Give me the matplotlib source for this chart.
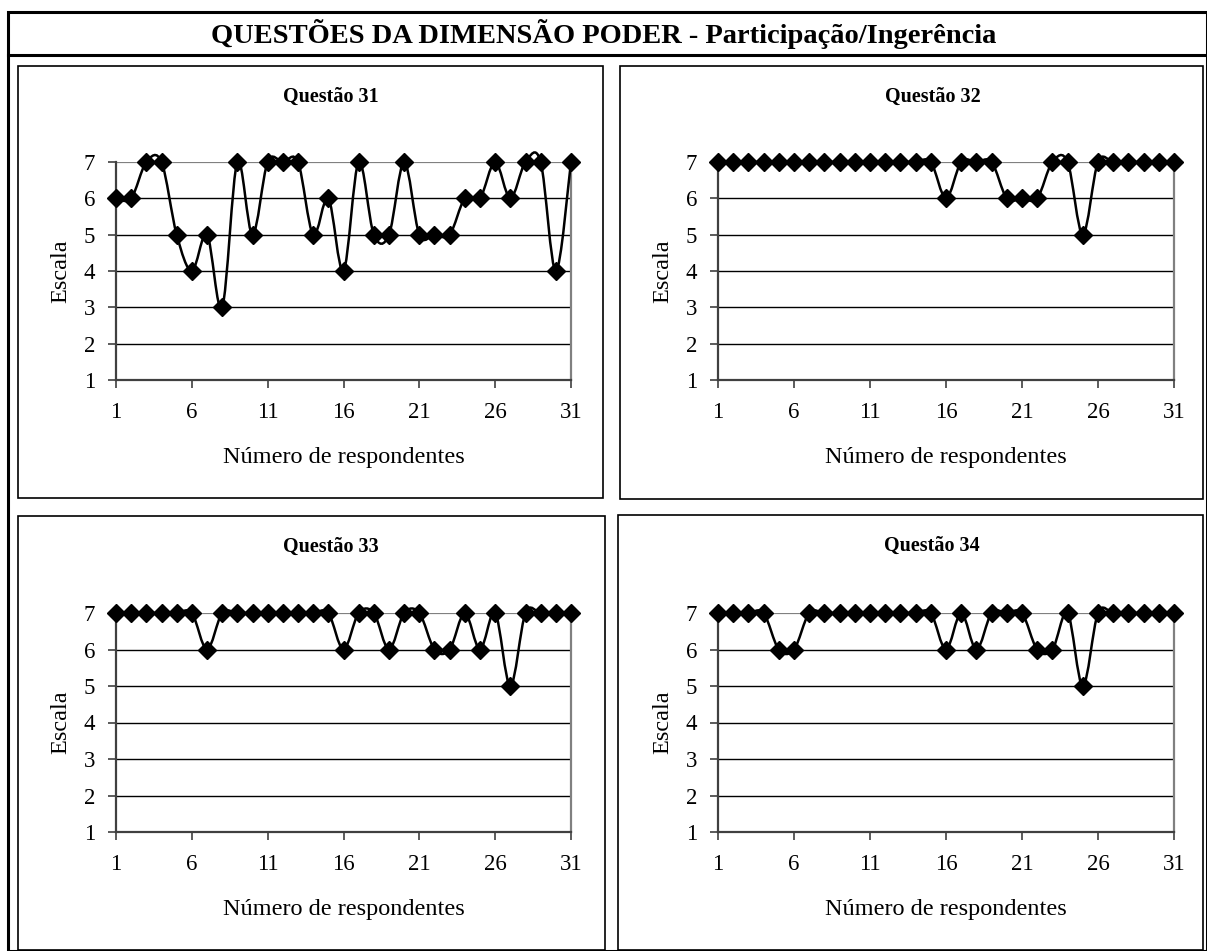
import matplotlib
matplotlib.use("Agg")
import matplotlib.pyplot as plt
import numpy as np
from matplotlib.path import Path
from matplotlib.patches import PathPatch, Rectangle

plt.rcParams['font.family'] = ['Liberation Serif', 'DejaVu Serif']

W, H = 1207, 951

titulo = "QUESTÕES DA DIMENSÃO PODER - Participação/Ingerência"
respondentes = list(range(1, 32))
q31 = [6, 6, 7, 7, 5, 4, 5, 3, 7, 5, 7, 7, 7, 5, 6, 4, 7, 5, 5, 7, 5, 5, 5, 6, 6, 7, 6, 7, 7, 4, 7]
q32 = [7, 7, 7, 7, 7, 7, 7, 7, 7, 7, 7, 7, 7, 7, 7, 6, 7, 7, 7, 6, 6, 6, 7, 7, 5, 7, 7, 7, 7, 7, 7]
q33 = [7, 7, 7, 7, 7, 7, 6, 7, 7, 7, 7, 7, 7, 7, 7, 6, 7, 7, 6, 7, 7, 6, 6, 7, 6, 7, 5, 7, 7, 7, 7]
q34 = [7, 7, 7, 7, 6, 6, 7, 7, 7, 7, 7, 7, 7, 7, 7, 6, 7, 6, 7, 7, 7, 6, 6, 7, 5, 7, 7, 7, 7, 7, 7]
paineis = ["Questão 31", "Questão 32", "Questão 33", "Questão 34"]
series = [q31, q32, q33, q34]
xticks = [1, 6, 11, 16, 21, 26, 31]
yticks = [1, 2, 3, 4, 5, 6, 7]


def px(x0, y0, x1, y1):
    # pixel box (top-left origin) -> figure fraction rect
    return [x0 / W, 1 - y1 / H, (x1 - x0) / W, (y1 - y0) / H]


def smooth_path(x, y):
    # excel-like smoothed line, bezier through the points
    x = np.asarray(x, float)
    y = np.asarray(y, float)
    n = len(x)
    verts = [(x[0], y[0])]
    codes = [Path.MOVETO]
    for i in range(n - 1):
        xp, yp = (x[i - 1], y[i - 1]) if i > 0 else (x[i], y[i])
        xn, yn = (x[i + 2], y[i + 2]) if i + 2 < n else (x[i + 1], y[i + 1])
        c1 = (x[i] + (x[i + 1] - xp) / 6, y[i] + (y[i + 1] - yp) / 6)
        c2 = (x[i + 1] - (xn - x[i]) / 6, y[i + 1] - (yn - y[i]) / 6)
        verts += [c1, c2, (x[i + 1], y[i + 1])]
        codes += [Path.CURVE4] * 3
    return Path(verts, codes)


fig = plt.figure(figsize=(W / 100, H / 100), dpi=100)

# outer frame and title row
fig.add_artist(Rectangle((8 / W, 0), (W - 8) / W, (H - 12) / H, transform=fig.transFigure,
                         fill=False, lw=2.2, ec='black'))
fig.add_artist(plt.Line2D([8 / W, 1], [1 - 55 / H, 1 - 55 / H], transform=fig.transFigure,
                          lw=2.2, color='black'))
fig.text(604 / W, 1 - 34 / H, titulo, ha='center', va='center', fontsize=20.5, fontweight='bold')

caixas = [(18, 66, 603, 498), (620, 66, 1203, 499), (18, 516, 605, 950), (618, 515, 1203, 950)]
eixos = [(116, 162, 571, 380), (718, 162, 1174, 380), (116, 613, 571, 832), (718, 613, 1174, 832)]

for k in range(4):
    bx = caixas[k]
    fig.add_artist(Rectangle((bx[0] / W, 1 - bx[3] / H), (bx[2] - bx[0]) / W, (bx[3] - bx[1]) / H,
                             transform=fig.transFigure, fill=False, lw=1.2, ec='black'))
    ax = fig.add_axes(px(*eixos[k]))
    ax.set_xlim(1, 31)
    ax.set_ylim(1, 7)
    for y in yticks[1:-1]:
        ax.axhline(y, color='black', lw=1.0, zorder=1)
    ax.axhline(7, color='#808080', lw=1.6, zorder=1)
    ax.add_patch(PathPatch(smooth_path(respondentes, series[k]), fill=False, ec='black',
                           lw=1.8, zorder=3, clip_on=False))
    ax.plot(respondentes, series[k], linestyle='none', marker='D', ms=9, color='black',
            zorder=4, clip_on=False)
    ax.spines['top'].set_visible(False)
    ax.spines['right'].set_color('#808080')
    ax.spines['right'].set_linewidth(1.6)
    ax.spines['left'].set_color('#404040')
    ax.spines['bottom'].set_color('#404040')
    ax.spines['left'].set_linewidth(1.6)
    ax.spines['bottom'].set_linewidth(1.6)
    ax.set_xticks(xticks)
    ax.set_yticks(yticks)
    ax.tick_params(axis='both', direction='out', length=6, width=1.2, color='#404040',
                   labelsize=16.5)
    ax.tick_params(axis='y', pad=9)
    ax.tick_params(axis='x', pad=10)
    ax.set_ylabel('Escala', fontsize=17.5, labelpad=9)
    ax.set_xlabel('Número de respondentes', fontsize=17.5, labelpad=17)
    cx = (bx[0] + eixos[k][2]) / 2 + 36
    fig.text(cx / W, 1 - (bx[1] + 31) / H, paineis[k], ha='center', va='center',
             fontsize=14.5, fontweight='bold')

fig.savefig('out.png', dpi=100)
